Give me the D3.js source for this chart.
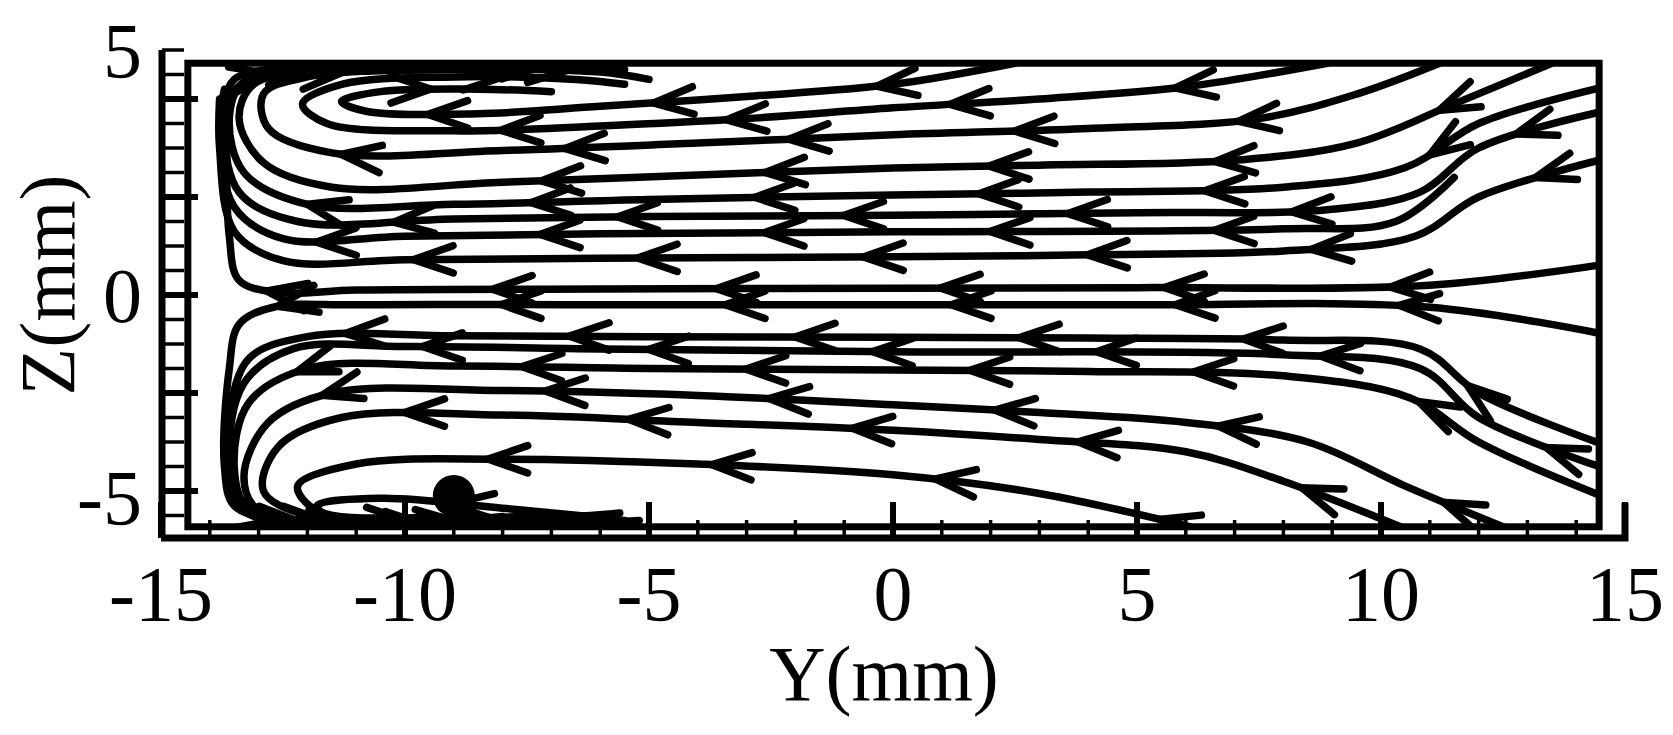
<!DOCTYPE html>
<html>
<head>
<meta charset="utf-8">
<script src="https://cdn.jsdelivr.net/npm/d3@7"></script>
<style>
  body { margin: 0; background: #fff; }
  text { font-family: "Liberation Serif", "Times New Roman", serif; fill: #000; }
</style>
</head>
<body>
<div id="chart"></div>
<script>
// Streamlines, listed in flow direction (right -> left), points are [Y, Z] in mm
var upperLines = [
  [[2.5,4.73],[0,4.3],[-3,4.05],[-6,3.85],[-8.5,3.7],[-10.8,3.75],[-11.3,3.95],[-10.5,4.15],[-8.5,4.2],[-7,4.15]],
  [[8.9,4.73],[6,4.25],[3,4.0],[0,3.82],[-3,3.6],[-6,3.45],[-9,3.35],[-11.6,3.5],[-12.1,3.9],[-11.3,4.3],[-9,4.45],[-6.5,4.4],[-5.5,4.3]],
  [[11.2,4.73],[9.5,4.1],[7.5,3.6],[4,3.4],[0,3.27],[-4,3.1],[-8,2.95],[-11.5,2.9],[-12.8,3.4],[-12.9,4.1],[-12,4.45],[-9,4.6],[-6,4.55],[-5,4.4]],
  [[13.5,4.73],[11.5,3.9],[9.5,3.1],[7,2.75],[3,2.65],[0,2.59],[-4,2.45],[-8,2.3],[-11.5,2.2],[-12.9,2.7],[-13.4,3.6],[-13.1,4.3],[-11.5,4.6],[-8,4.68],[-5.5,4.6]],
  [[14.47,4.22],[12,3.5],[10.5,2.6],[8,2.2],[4,2.1],[0,2.04],[-5,1.95],[-9,1.85],[-12,1.85],[-13.3,2.5],[-13.6,3.6],[-13.3,4.35],[-11,4.62],[-7,4.66]],
  [[14.47,3.73],[12,3.0],[10.8,2.1],[9,1.75],[5,1.68],[0,1.63],[-5,1.6],[-9,1.55],[-12.2,1.5],[-13.4,2.1],[-13.7,3.5],[-13.5,4.4],[-12,4.65]],
  [[11.5,2.4],[10.3,1.5],[8,1.35],[0,1.29],[-6,1.25],[-10,1.2],[-12.5,1.15],[-13.5,1.8],[-13.8,3.4],[-13.7,4.2]],
  [[14.47,2.75],[12,2.0],[10.7,1.2],[8,0.9],[4,0.82],[0,0.78],[-6,0.75],[-10,0.72],[-12.5,0.7],[-13.5,1.3],[-13.8,3],[-13.8,4.0]],
  [[14.47,0.61],[11,0.2],[5,0.15],[0,0.14],[-6,0.12],[-11,0.1],[-12.6,0.05],[-13.4,0.3],[-13.6,1.2],[-13.65,3.0],[-13.6,4.0],[-13.2,4.4],[-12,4.6]]
];
var lowerLines = [
  [[14.47,-0.78],[11,-0.25],[5,-0.2],[0,-0.2],[-6,-0.2],[-11,-0.2],[-12.7,-0.25],[-13.4,-0.6],[-13.6,-1.5],[-13.7,-3.5],[-13.5,-4.3],[-12.5,-4.6],[-10,-4.7],[-7,-4.7],[-5.5,-4.62]],
  [[14.47,-3.02],[12,-2.0],[10.8,-1.1],[8,-0.92],[4,-0.88],[0,-0.86],[-5,-0.85],[-9,-0.83],[-12,-0.85],[-13.2,-1.3],[-13.6,-2.5],[-13.6,-3.8],[-13,-4.5],[-11,-4.68],[-7,-4.68],[-5.2,-4.6]],
  [[14.47,-3.5],[12,-2.5],[10.8,-1.5],[8,-1.22],[0,-1.16],[-6,-1.1],[-10,-1.05],[-12.3,-1.1],[-13.3,-1.8],[-13.6,-3.3],[-13.3,-4.4],[-12,-4.65],[-9,-4.68]],
  [[14.47,-4.08],[12,-3.0],[10.6,-2.1],[8,-1.65],[4,-1.56],[0,-1.53],[-5,-1.5],[-9,-1.45],[-12,-1.5],[-13.2,-2.2],[-13.5,-3.5],[-13.2,-4.4],[-11.5,-4.65],[-8,-4.65]],
  [[12.5,-4.73],[10.5,-3.9],[8.5,-3.0],[6,-2.6],[3,-2.4],[0,-2.24],[-4,-2.05],[-8,-1.95],[-11.5,-2.0],[-12.8,-2.6],[-13.3,-3.7],[-13,-4.4],[-11,-4.62],[-7,-4.63]],
  [[10.4,-4.73],[8,-3.8],[6,-3.2],[3,-2.95],[0,-2.76],[-4,-2.6],[-8,-2.45],[-11.3,-2.5],[-12.6,-3.1],[-12.9,-4.0],[-12,-4.5],[-9.5,-4.6],[-7,-4.55],[-5.6,-4.45]],
  [[6.1,-4.73],[3,-4.05],[0,-3.67],[-4,-3.45],[-8,-3.35],[-11,-3.45],[-12.2,-3.9],[-11.8,-4.4],[-9.5,-4.55],[-7,-4.5]],
  [[-5.5,-4.6],[-8,-4.35],[-10.5,-4.15],[-11.8,-4.3],[-11.5,-4.55],[-9,-4.62],[-8,-4.52]]
];
// arrow phase (Y of first arrow column) for each streamline
var upperPhase = [-9.5, -8.0, -11.3, -7.2, -12.0, -10.2, -11.8, -9.8, -12.8];
var lowerPhase = [-12.6, -11.2, -9.6, -12.2, -11.7, -10.0, -8.3, -9.0];
var arrowStep = 4.6;

// singular point (dot) near the lower vortex
var dot = [-9.0, -4.1];

var xTicksMajor = [-15, -10, -5, 0, 5, 10, 15];
var xTickLabels = ["-15", "-10", "-5", "0", "5", "10", "15"];
var zTicksMajor = [-4, -2, 0, 2, 4];
var zLabels = [5, 0, -5];

var width = 1673, height = 735;
var box = { y0: -14.45, y1: 14.47, z0: -4.73, z1: 4.73 };

var x = d3.scaleLinear().domain([-15, 15]).range([161, 1625]);
var z = d3.scaleLinear().domain([0, 4]).range([295, 99]);

var svg = d3.select("#chart").append("svg")
  .attr("width", width).attr("height", height);

svg.append("clipPath").attr("id", "clip").append("rect")
  .attr("x", x(box.y0)).attr("y", z(box.z1))
  .attr("width", x(box.y1) - x(box.y0)).attr("height", z(box.z0) - z(box.z1));

var plot = svg.append("g").attr("clip-path", "url(#clip)");

var line = d3.line()
  .x(function (d) { return x(d[0]); })
  .y(function (d) { return z(d[1]); })
  .curve(d3.curveCatmullRom.alpha(0.5));

var allLines = upperLines.map(function (l, i) { return { pts: l, phase: upperPhase[i] }; })
  .concat(lowerLines.map(function (l, i) { return { pts: l, phase: lowerPhase[i] }; }));

var sw = 7.5;

allLines.forEach(function (s) {
  var p = plot.append("path")
    .attr("d", line(s.pts))
    .attr("fill", "none")
    .attr("stroke", "#000")
    .attr("stroke-width", sw)
    .attr("stroke-linecap", "round");

  // sample the path and put arrowheads where it crosses the arrow columns
  var node = p.node(), len = node.getTotalLength();
  var samples = d3.range(0, len, 2).map(function (t) { return node.getPointAtLength(t); });
  var cols = [];
  for (var c = s.phase; c < 14.5; c += arrowStep) cols.push(x(c));
  var lastAt = -1e9;
  for (var i = 1; i < samples.length - 4; i++) {
    var a = samples[i - 1], b = samples[i];
    cols.forEach(function (cx) {
      if ((a.x - cx) * (b.x - cx) <= 0 && a.x !== b.x && i * 2 - lastAt > 90 && i * 2 > 30) {
        lastAt = i * 2;
        var n = samples[Math.min(i + 4, samples.length - 1)], m = samples[Math.max(i - 4, 0)];
        var dx = n.x - m.x, dy = n.y - m.y, dl = Math.hypot(dx, dy) || 1;
        dx /= dl; dy /= dl;
        var L = 42, ang = 19 * Math.PI / 180;
        function barb(sg) {
          var ca = Math.cos(sg * ang), sa = Math.sin(sg * ang);
          return [b.x - L * (dx * ca - dy * sa), b.y - L * (dx * sa + dy * ca)];
        }
        var b1 = barb(1), b2 = barb(-1);
        plot.append("path")
          .attr("d", "M" + b1 + "L" + [b.x, b.y] + "L" + b2)
          .attr("fill", "none").attr("stroke", "#000")
          .attr("stroke-width", sw).attr("stroke-linecap", "round").attr("stroke-linejoin", "miter");
      }
    });
  }
});

plot.append("circle")
  .attr("cx", x(dot[0])).attr("cy", z(dot[1])).attr("r", 21).attr("fill", "#000");

// frame of the data region
svg.append("rect")
  .attr("x", x(box.y0)).attr("y", z(box.z1))
  .attr("width", x(box.y1) - x(box.y0)).attr("height", z(box.z0) - z(box.z1))
  .attr("fill", "none").attr("stroke", "#000").attr("stroke-width", 7);

// offset axes (tecplot style)
var axisY = 538, axisX = 162;
svg.append("path")
  .attr("d", "M" + x(-15) + "," + axisY + "H" + x(15) + "V" + 503)
  .attr("fill", "none").attr("stroke", "#000").attr("stroke-width", 7);
svg.append("path")
  .attr("d", "M" + axisX + "," + z(5) + "V" + axisY)
  .attr("fill", "none").attr("stroke", "#000").attr("stroke-width", 7);

d3.range(-15, 15.01, 1).forEach(function (v) {
  var major = xTicksMajor.indexOf(v) >= 0;
  svg.append("line")
    .attr("x1", x(v)).attr("x2", x(v))
    .attr("y1", axisY).attr("y2", axisY - (major ? 36 : 18))
    .attr("stroke", "#000").attr("stroke-width", major ? 6 : 3.5);
});
d3.range(-5, 5.01, 0.5).forEach(function (v) {
  var major = zTicksMajor.indexOf(v) >= 0;
  if (z(v) > axisY) return;
  svg.append("line")
    .attr("x1", axisX).attr("x2", axisX + (major ? 36 : 22))
    .attr("y1", z(v)).attr("y2", z(v))
    .attr("stroke", "#000").attr("stroke-width", major ? 6 : 3.5);
});

svg.selectAll(".xl").data(xTicksMajor).enter().append("text")
  .attr("x", function (d) { return x(d); })
  .attr("y", 620)
  .attr("text-anchor", "middle")
  .style("font-size", "78px")
  .text(function (d, i) { return xTickLabels[i]; });

svg.selectAll(".zl").data(zLabels).enter().append("text")
  .attr("x", 142)
  .attr("y", function (d) { return d === -5 ? 497 : z(d); })
  .attr("dy", "0.35em")
  .attr("text-anchor", "end")
  .style("font-size", "78px")
  .text(function (d) { return d; });

svg.append("text")
  .attr("x", 884).attr("y", 700)
  .attr("text-anchor", "middle")
  .style("font-size", "78px")
  .text("Y(mm)");

svg.append("text")
  .attr("transform", "translate(74,285) rotate(-90)")
  .attr("text-anchor", "middle")
  .style("font-size", "78px")
  .text("Z(mm)");
</script>
</body>
</html>
